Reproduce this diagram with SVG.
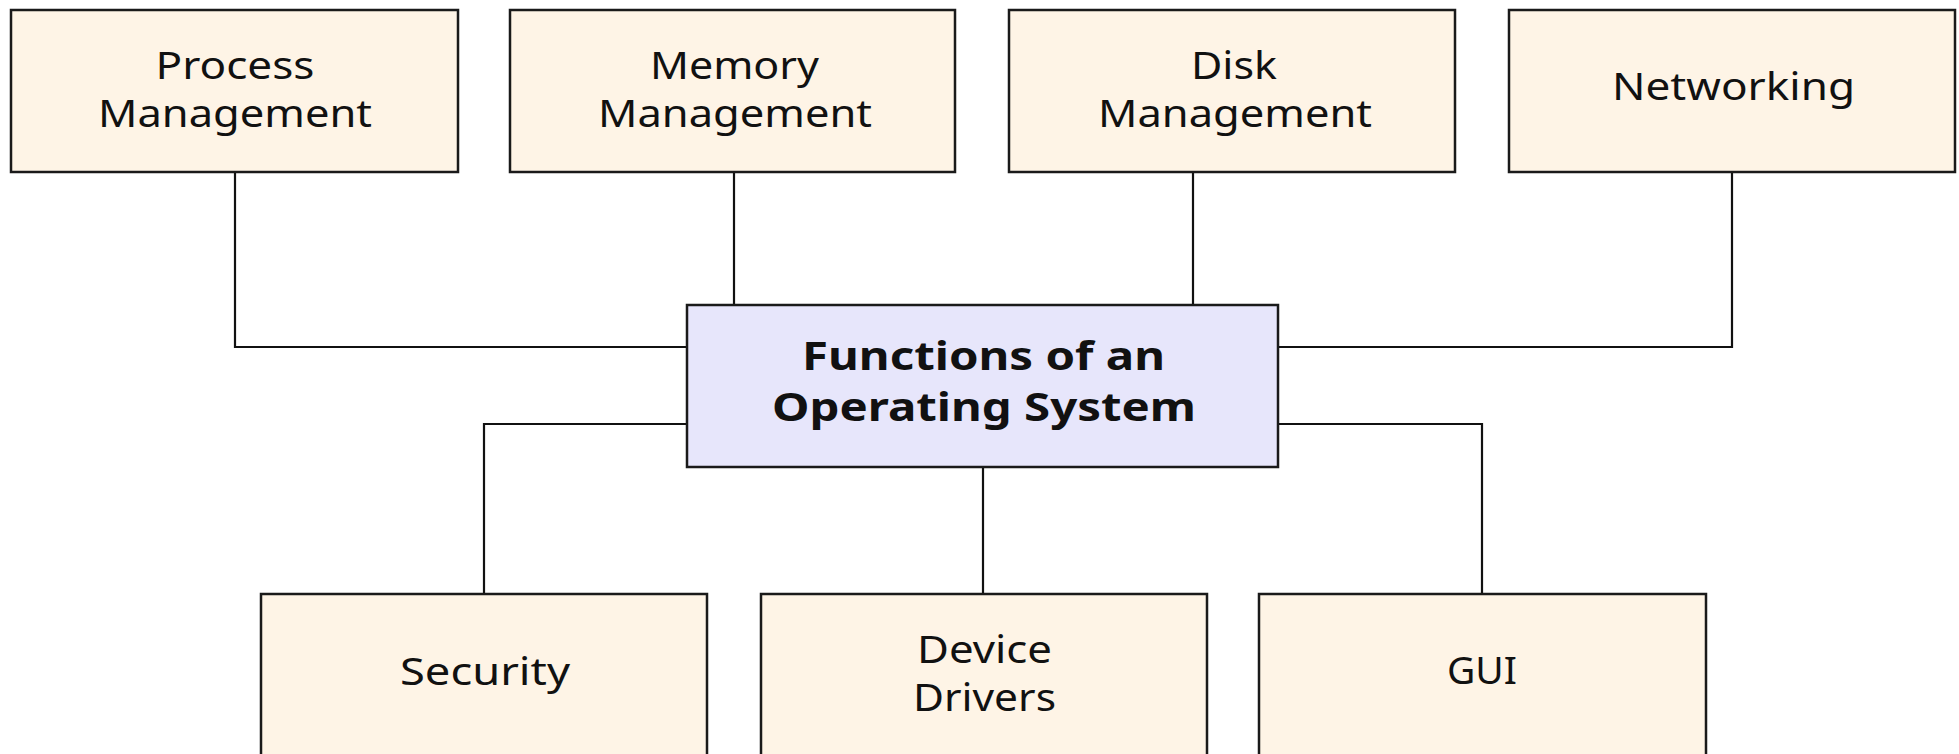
<svg xmlns="http://www.w3.org/2000/svg" width="1959" height="754" viewBox="0 0 1959 754">
<style>
.box{fill:#FEF4E6;stroke:#1a1a1a;stroke-width:2.5}
.main{fill:#E7E6FB;stroke:#1a1a1a;stroke-width:2.5}
.lbl{font-family:"Noto Sans","Open Sans",sans-serif;font-size:38px;fill:#111;text-anchor:middle}
.ttl{font-family:"Noto Sans","Open Sans",sans-serif;font-size:40px;font-weight:bold;fill:#111;text-anchor:middle}
.conn{fill:none;stroke:#111;stroke-width:2.2}
</style>
<rect width="1959" height="754" fill="#ffffff"/>
<g id="connectors">
<polyline class="conn" points="235,172 235,347 687,347"/>
<line class="conn" x1="734" y1="172" x2="734" y2="305"/>
<line class="conn" x1="1193" y1="172" x2="1193" y2="305"/>
<polyline class="conn" points="1732,172 1732,347 1279,347"/>
<polyline class="conn" points="687,424 484,424 484,594"/>
<line class="conn" x1="983" y1="467" x2="983" y2="602"/>
<polyline class="conn" points="1274,424 1482,424 1482,594"/>
</g>
<g id="process-management">
<rect class="box" x="11" y="10" width="447" height="162"/>
<text class="lbl" x="235" y="79" textLength="159" lengthAdjust="spacingAndGlyphs">Process</text>
<text class="lbl" x="235" y="127" textLength="274" lengthAdjust="spacingAndGlyphs">Management</text>
</g>
<g id="memory-management">
<rect class="box" x="510" y="10" width="445" height="162"/>
<text class="lbl" x="734.5" y="79" textLength="169" lengthAdjust="spacingAndGlyphs">Memory</text>
<text class="lbl" x="735" y="127" textLength="274" lengthAdjust="spacingAndGlyphs">Management</text>
</g>
<g id="disk-management">
<rect class="box" x="1009" y="10" width="446" height="162"/>
<text class="lbl" x="1234" y="79" textLength="86" lengthAdjust="spacingAndGlyphs">Disk</text>
<text class="lbl" x="1235" y="127" textLength="274" lengthAdjust="spacingAndGlyphs">Management</text>
</g>
<g id="networking">
<rect class="box" x="1509" y="10" width="446" height="162"/>
<text class="lbl" x="1733.5" y="100" textLength="243" lengthAdjust="spacingAndGlyphs">Networking</text>
</g>
<g id="functions-of-an-os">
<rect class="main" x="687" y="305" width="591" height="162"/>
<text class="ttl" x="983.5" y="370" textLength="363" lengthAdjust="spacingAndGlyphs">Functions of an</text>
<text class="ttl" x="984" y="421" textLength="424" lengthAdjust="spacingAndGlyphs">Operating System</text>
</g>
<g id="security">
<rect class="box" x="261" y="594" width="446" height="170"/>
<text class="lbl" x="485" y="685" textLength="170" lengthAdjust="spacingAndGlyphs">Security</text>
</g>
<g id="device-drivers">
<rect class="box" x="761" y="594" width="446" height="170"/>
<text class="lbl" x="984.5" y="663" textLength="135" lengthAdjust="spacingAndGlyphs">Device</text>
<text class="lbl" x="984.5" y="711" textLength="143" lengthAdjust="spacingAndGlyphs">Drivers</text>
</g>
<g id="gui">
<rect class="box" x="1259" y="594" width="447" height="170"/>
<text class="lbl" x="1482" y="684" textLength="70" lengthAdjust="spacingAndGlyphs">GUI</text>
</g>
</svg>
